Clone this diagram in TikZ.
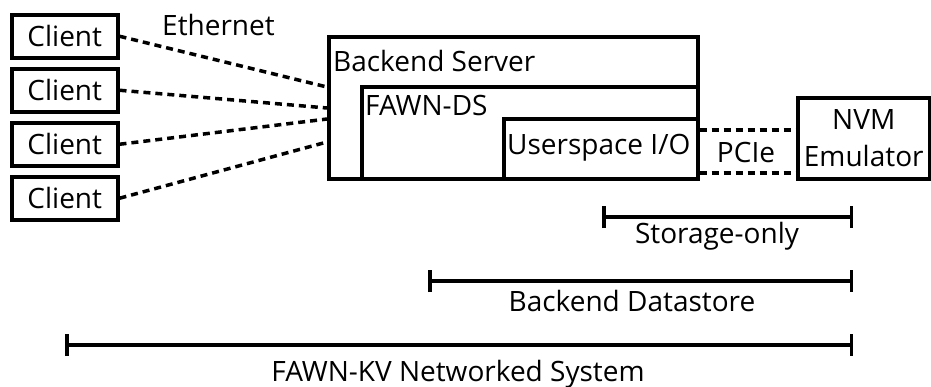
\documentclass[tikz,border=0pt]{standalone}
\usepackage{fontspec}
\setmainfont{Open Sans}
\usetikzlibrary{arrows.meta}

\tikzset{
	box/.style={draw, line width=3.5pt, rectangle, inner sep=0pt, anchor=north west},
	txt/.style={inner sep=0pt, font=\fontsize{28}{37}\selectfont},
	wire/.style={line width=3.5pt, dash pattern=on 7pt off 5pt},
	spanbar/.style={line width=3.5pt, {Bar[width=22pt]}-{Bar[width=22pt]}},
}

\begin{document}
\begin{tikzpicture}[x=1pt, y=-1pt]
		\useasboundingbox (0,0) rectangle (931,386);

		% Draw the clients
		\node[box, txt, minimum width=106pt, minimum height=43pt] (c1) at (10,13) {Client};
		\node[box, txt, minimum width=106pt, minimum height=43pt] (c2) at (10,67) {Client};
		\node[box, txt, minimum width=106pt, minimum height=43pt] (c3) at (10,121) {Client};
		\node[box, txt, minimum width=106pt, minimum height=43pt] (c4) at (10,175) {Client};

		\node[txt, anchor=base west] (eth) at (162,35) {Ethernet};

		% Draw the nested server boxes
		\node[box, minimum width=369pt, minimum height=142pt] (server) at (327,35) {};
		\node[box, minimum width=336pt, minimum height=92pt] (fds) at (360,85) {};
		\node[box, minimum width=194pt, minimum height=60pt] (usio) at (502,117) {};

		\node[txt, anchor=base west] (serverlbl) at (333,71) {Backend Server};
		\node[txt, anchor=base west] (fdslbl) at (365,115) {FAWN-DS};
		\node[txt, anchor=base west] (usiolbl) at (507,154) {Userspace I/O};

		% Draw the emulator box
		\node[box, txt, align=center, minimum width=132pt, minimum height=81pt] (nvm) at (796,96) {NVM\\Emulator};

		% Draw the ethernet wires
		\draw[wire] (c1.east) -- ([yshift=-52pt]server.north west);
		\draw[wire] (c2.east) -- ([yshift=-73pt]server.north west);
		\draw[wire] (c3.east) -- ([yshift=-84pt]server.north west);
		\draw[wire] (c4.east) -- ([yshift=-107pt]server.north west);

		% Draw the PCIe link
		\draw[wire] ([yshift=-13pt]usio.north east) -- ([yshift=-13pt]usio.north east -| nvm.west);
		\draw[wire] ([yshift=-56pt]usio.north east) -- ([yshift=-56pt]usio.north east -| nvm.west);
		\node[txt, anchor=base] (pcie) at (746,162) {PCIe};

		% Draw the spans
		\coordinate (so1) at (602,217);
		\coordinate (so2) at (853,217);
		\coordinate (bd1) at (428,281);
		\coordinate (bd2) at (853,281);
		\coordinate (kv1) at (65,345);
		\coordinate (kv2) at (853,345);

		\draw[spanbar] (so1) -- (so2);
		\draw[spanbar] (bd1) -- (bd2);
		\draw[spanbar] (kv1) -- (kv2);

		\node[txt, anchor=base] (solbl) at (717,243) {Storage-only};
		\node[txt, anchor=base] (bdlbl) at (632,311) {Backend Datastore};
		\node[txt, anchor=base] (kvlbl) at (458,381) {FAWN-KV Networked System};
	\end{tikzpicture}
\end{document}
